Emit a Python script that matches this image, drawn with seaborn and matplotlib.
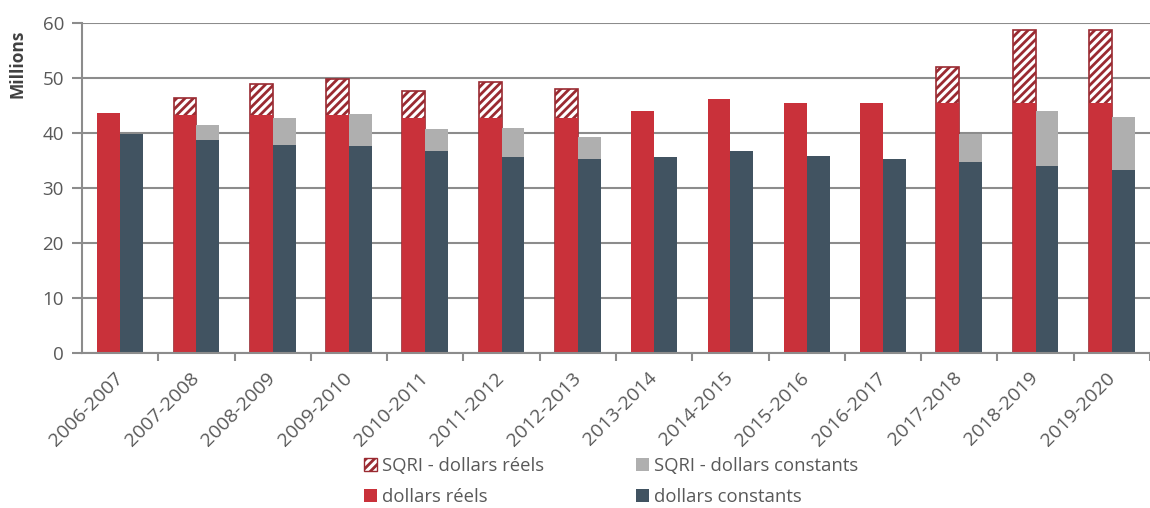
import matplotlib
matplotlib.use("Agg")
import matplotlib.pyplot as plt
from matplotlib.patches import Patch
from matplotlib.ticker import MultipleLocator
import seaborn as sns
import pandas as pd
import numpy as np


YEARS = [
    "2006-2007", "2007-2008", "2008-2009", "2009-2010", "2010-2011",
    "2011-2012", "2012-2013", "2013-2014", "2014-2015", "2015-2016",
    "2016-2017", "2017-2018", "2018-2019", "2019-2020",
]
REELS = [43.6, 43.2, 43.2, 43.2, 42.8, 42.8, 42.8, 44.0, 46.1, 45.5, 45.5, 45.5, 45.5, 45.5]
SQRI_REELS = [0.0, 3.1, 5.7, 6.6, 4.8, 6.4, 5.2, 0.0, 0.0, 0.0, 0.0, 6.5, 13.3, 13.3]
CONSTANTS = [39.9, 38.7, 37.8, 37.7, 36.8, 35.7, 35.2, 35.7, 36.7, 35.8, 35.3, 34.7, 34.0, 33.3]
SQRI_CONSTANTS = [0.0, 2.7, 4.9, 5.8, 3.9, 5.2, 4.1, 0.0, 0.0, 0.0, 0.0, 5.1, 10.0, 9.7]

RED = "#C9313A"
DARK_RED = "#9A2A31"
SLATE = "#415361"
GREY = "#AFAFAF"
AXIS_GREY = "#8C8C8C"
TEXT_GREY = "#595959"

plt.rcParams["font.family"] = ["Open Sans", "DejaVu Sans"]
plt.rcParams["hatch.linewidth"] = 2.0
plt.rcParams["hatch.color"] = DARK_RED

base = pd.DataFrame({
    "Année": YEARS * 2,
    "Type": ["réels"] * len(YEARS) + ["constants"] * len(YEARS),
    "Valeur": REELS + CONSTANTS,
})
total = pd.DataFrame({
    "Année": YEARS * 2,
    "Type": ["réels"] * len(YEARS) + ["constants"] * len(YEARS),
    "Valeur": list(np.add(REELS, SQRI_REELS)) + list(np.add(CONSTANTS, SQRI_CONSTANTS)),
})

fig = plt.figure(figsize=(11.5, 5.08), dpi=100)
ax = fig.add_axes([82 / 1150, 155 / 508, 1068 / 1150, 330 / 508])

ax.set_axisbelow(True)
ax.grid(axis="y", color=AXIS_GREY, linewidth=1.5)

# totals (base + SQRI) drawn first, base bars drawn on top
sns.barplot(
    data=total, x="Année", y="Valeur", hue="Type", hue_order=["réels", "constants"],
    palette={"réels": "white", "constants": GREY}, width=0.6, ax=ax,
    legend=False, saturation=1, linewidth=0,
)
sns.barplot(
    data=base, x="Année", y="Valeur", hue="Type", hue_order=["réels", "constants"],
    palette={"réels": RED, "constants": SLATE}, width=0.6, ax=ax,
    legend=False, saturation=1, linewidth=0,
)

n = len(YEARS)
for i, patch in enumerate(ax.patches[:n]):
    if SQRI_REELS[i] > 0:
        patch.set_hatch("////")
        patch.set_edgecolor(DARK_RED)
        patch.set_linewidth(1.2)

ax.set_ylim(0, 60)
ax.set_xlim(-0.5, -0.5 + 1068 / 77)
ax.yaxis.set_major_locator(MultipleLocator(10))
ax.set_xlabel("")
ax.set_ylabel("Millions", fontsize=12.5, fontweight="bold", color="#404040")
ax.yaxis.set_label_coords(-0.052, 0.876)

ax.set_xticks(range(n))
ax.set_xticklabels(YEARS, rotation=45, ha="right", va="center", rotation_mode="anchor",
                   fontsize=14, color=TEXT_GREY)
ax.set_xticks(np.arange(n) + 0.5, minor=True)
ax.tick_params(axis="x", which="major", length=0, pad=16)
ax.tick_params(axis="x", which="minor", length=6, width=1.5, color=AXIS_GREY)
ax.tick_params(axis="y", length=7, width=1.5, color=AXIS_GREY, labelsize=13.5,
               labelcolor=TEXT_GREY, pad=6)

for side in ["top", "right"]:
    ax.spines[side].set_visible(False)
for side in ["left", "bottom"]:
    ax.spines[side].set_color(AXIS_GREY)
    ax.spines[side].set_linewidth(1.5)

handles = [
    Patch(facecolor="white", edgecolor=DARK_RED, hatch="////", linewidth=1.0, label="SQRI - dollars réels"),
    Patch(facecolor=RED, label="dollars réels"),
    Patch(facecolor=GREY, label="SQRI - dollars constants"),
    Patch(facecolor=SLATE, label="dollars constants"),
]
fig.legend(
    handles=handles, loc="upper left", bbox_to_anchor=(364 / 1150, 1 - 457 / 508),
    ncol=2, frameon=False, fontsize=13.3, labelcolor=TEXT_GREY,
    handlelength=0.7, handleheight=0.7, handletextpad=0.25,
    columnspacing=5.0, labelspacing=0.68, borderaxespad=0, borderpad=0,
)

fig.savefig("out.png", dpi=100)
